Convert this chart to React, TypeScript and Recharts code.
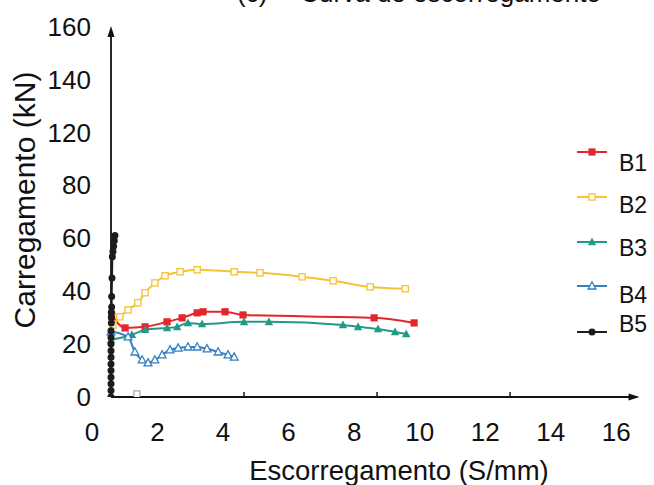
import React from 'react';
import { ComposedChart, Line, XAxis, YAxis, ReferenceLine, Legend } from 'recharts';

type P = { x: number; y: number };

const xTicks = [0, 2, 4, 6, 8, 10, 12, 14, 16];
const yTickValues = [0, 20, 40, 60, 80, 100, 120, 140];
const yTickLabels = ['0', '20', '40', '60', '80', '120', '140', '160'];
const xMinorTicks = [4.64, 8.7, 12.76];

const seriesNames = ['B1', 'B2', 'B3', 'B4', 'B5'];

const b1: P[] = [
  { x: 0.6, y: 31 }, { x: 1.01, y: 26.1 }, { x: 1.62, y: 26.5 }, { x: 2.29, y: 28.4 },
  { x: 2.75, y: 29.9 }, { x: 3.21, y: 31.8 }, { x: 3.39, y: 32.2 }, { x: 4.06, y: 32.2 },
  { x: 4.61, y: 31.0 }, { x: 8.61, y: 29.9 }, { x: 9.83, y: 28.0 },
];
const b2: P[] = [
  { x: 0.64, y: 27.2 }, { x: 0.85, y: 30.3 }, { x: 1.1, y: 32.9 }, { x: 1.4, y: 35.6 },
  { x: 1.62, y: 39.4 }, { x: 1.92, y: 43.1 }, { x: 2.23, y: 45.8 }, { x: 2.69, y: 47.3 },
  { x: 3.21, y: 48.1 }, { x: 4.34, y: 47.3 }, { x: 5.13, y: 46.9 }, { x: 6.41, y: 45.4 },
  { x: 7.36, y: 43.9 }, { x: 8.49, y: 41.6 }, { x: 9.56, y: 40.9 },
];
const b3: P[] = [
  { x: 0.58, y: 21.6 }, { x: 1.22, y: 23.5 }, { x: 1.62, y: 25.4 }, { x: 2.29, y: 26.1 },
  { x: 2.6, y: 26.5 }, { x: 2.93, y: 28.0 }, { x: 3.36, y: 27.6 }, { x: 4.64, y: 28.4 },
  { x: 5.4, y: 28.4 }, { x: 7.66, y: 27.2 }, { x: 8.12, y: 26.5 }, { x: 8.73, y: 25.7 },
  { x: 9.25, y: 24.6 }, { x: 9.59, y: 23.8 },
];
const b4: P[] = [
  { x: 0.56, y: 0 }, { x: 0.58, y: 24.6 }, { x: 1.1, y: 22.7 }, { x: 1.31, y: 17.0 },
  { x: 1.53, y: 14.0 }, { x: 1.71, y: 12.9 }, { x: 1.92, y: 14.0 }, { x: 2.14, y: 15.9 },
  { x: 2.38, y: 17.8 }, { x: 2.63, y: 18.5 }, { x: 2.93, y: 18.9 }, { x: 3.21, y: 18.9 },
  { x: 3.51, y: 18.2 }, { x: 3.85, y: 17.0 }, { x: 4.15, y: 15.9 }, { x: 4.34, y: 15.1 },
];
const b5: P[] = [
  { x: 0.58, y: 0 }, { x: 0.58, y: 2.5 }, { x: 0.58, y: 5 }, { x: 0.58, y: 7.5 },
  { x: 0.58, y: 10 }, { x: 0.58, y: 12.5 }, { x: 0.58, y: 15 }, { x: 0.58, y: 17.5 },
  { x: 0.58, y: 20 }, { x: 0.58, y: 22.5 }, { x: 0.58, y: 25 }, { x: 0.59, y: 28 },
  { x: 0.59, y: 30 }, { x: 0.59, y: 32 }, { x: 0.6, y: 34 }, { x: 0.6, y: 38 },
  { x: 0.61, y: 45 }, { x: 0.62, y: 53 }, { x: 0.64, y: 55 }, { x: 0.66, y: 57 },
  { x: 0.68, y: 59 }, { x: 0.7, y: 61 },
];
const stray: P[] = [{ x: 1.37, y: 0.8 }];

const COLORS = ['#e3262c', '#f5c233', '#249a86', '#3580c2', '#1c1c1c'];
const SHAPES = ['square', 'squareOpen', 'triangle', 'triangleOpen', 'circle'];
const FONT = '"Liberation Sans", Arial, sans-serif';

function marker(shape: string, color: string, cx: number, cy: number, key?: any) {
  const s = 3.6;
  switch (shape) {
    case 'square':
      return <rect key={key} x={cx - s} y={cy - s} width={2 * s} height={2 * s} fill={color} />;
    case 'squareOpen':
      return <rect key={key} x={cx - s + 0.5} y={cy - s + 0.5} width={2 * s - 1} height={2 * s - 1} fill="#fff" stroke={color} strokeWidth={1.3} />;
    case 'triangle':
      return <polygon key={key} points={`${cx},${cy - 4.5} ${cx - 4.2},${cy + 3.3} ${cx + 4.2},${cy + 3.3}`} fill={color} />;
    case 'triangleOpen':
      return <polygon key={key} points={`${cx},${cy - 4.2} ${cx - 3.9},${cy + 3} ${cx + 3.9},${cy + 3}`} fill="#fff" stroke={color} strokeWidth={1.3} />;
    case 'strayOpen':
      return <rect key={key} x={cx - 3} y={cy - 4} width={6} height={7} fill="#fff" stroke={color} strokeWidth={1.1} />;
    default:
      return <circle key={key} cx={cx} cy={cy} r={3.5} fill={color} />;
  }
}

const dotFn = (shape: string, color: string) => (props: any) => {
  const { cx, cy, index } = props;
  if (cx == null || cy == null) return <g key={index} />;
  return marker(shape, color, cx, cy, index);
};

const arrowLine = (dir: 'up' | 'right') => (props: any) => {
  const { x1, y1, x2, y2 } = props;
  const head =
    dir === 'up'
      ? `${x2},${y2 - 3} ${x2 - 3.5},${y2 + 8} ${x2 + 3.5},${y2 + 8}`
      : `${x2 + 3},${y2} ${x2 - 8},${y2 - 3.5} ${x2 - 8},${y2 + 3.5}`;
  return (
    <g>
      <line x1={x1} y1={y1} x2={x2} y2={y2} stroke="#111" strokeWidth={1.8} />
      <polygon points={head} fill="#111" />
    </g>
  );
};

const tickMark = (props: any) => {
  const { x1, y1 } = props;
  return <line x1={x1} y1={y1} x2={x1} y2={y1 - 5} stroke="#222" strokeWidth={1.6} />;
};

const legendLineY = [22, 67, 112, 156, 202];
const legendTextY = [41, 83, 126, 173, 202];

const renderLegend = () => (
  <svg width={84} height={225} style={{ display: 'block' }}>
    {seriesNames.map((n, i) => (
      <g key={n}>
        <line x1={7} x2={37} y1={legendLineY[i]} y2={legendLineY[i]} stroke={COLORS[i]} strokeWidth={2} />
        {marker(SHAPES[i], COLORS[i], 22, legendLineY[i])}
        <text x={49} y={legendTextY[i]} fontSize={23} fontFamily={FONT} fill="#111">{n}</text>
      </g>
    ))}
  </svg>
);

const series = [b1, b2, b3, b4, b5];

export default function App() {
  return (
    <div style={{ position: 'absolute', left: 0, top: 0, width: 654, height: 485, overflow: 'hidden', background: '#fff', fontFamily: FONT }}>
      <div style={{ position: 'absolute', left: 237, top: -20, fontSize: 26, lineHeight: '26px', whiteSpace: 'nowrap', color: '#111' }}>
        (c)<span style={{ marginLeft: 33 }}>Curva de escorregamento</span>
      </div>
      <ComposedChart width={654} height={485} margin={{ top: 0, right: 5, bottom: 28, left: 0 }}>
        <XAxis
          type="number"
          dataKey="x"
          domain={[0, 17]}
          ticks={xTicks}
          axisLine={false}
          tickLine={false}
          tickMargin={20}
          height={60}
          tick={{ fontSize: 26, fill: '#111', fontFamily: FONT }}
          allowDataOverflow
        />
        <YAxis
          type="number"
          dataKey="y"
          domain={[0, 150]}
          ticks={yTickValues}
          tickFormatter={(v: number) => yTickLabels[yTickValues.indexOf(v)] ?? String(v)}
          axisLine={false}
          tickLine={false}
          tickSize={0}
          tickMargin={1}
          width={92}
          tick={{ fontSize: 26, fill: '#111', fontFamily: FONT }}
          allowDataOverflow
        />
        <ReferenceLine segment={[{ x: 0.58, y: 0 }, { x: 16.62, y: 0 }]} shape={arrowLine('right')} />
        <ReferenceLine segment={[{ x: 0.58, y: 0 }, { x: 0.58, y: 139 }]} shape={arrowLine('up')} />
        {xMinorTicks.map((t) => (
          <ReferenceLine key={t} segment={[{ x: t, y: 0 }, { x: t, y: 2 }]} shape={tickMark} />
        ))}
        {series.map((d, i) => (
          <Line
            key={seriesNames[i]}
            name={seriesNames[i]}
            data={d}
            dataKey="y"
            type={i === 4 ? 'linear' : 'monotone'}
            stroke={COLORS[i]}
            strokeWidth={2}
            dot={dotFn(SHAPES[i], COLORS[i])}
            activeDot={false}
            isAnimationActive={false}
          />
        ))}
        <Line
          name="stray"
          data={stray}
          dataKey="y"
          stroke="none"
          dot={dotFn('strayOpen', '#9a9a9a')}
          activeDot={false}
          legendType="none"
          isAnimationActive={false}
        />
        <Legend
          layout="horizontal"
          verticalAlign="middle"
          align="center"
          content={renderLegend}
          wrapperStyle={{ position: 'absolute', left: 570, top: 130, width: 84, height: 225 }}
        />
      </ComposedChart>
      <div style={{ position: 'absolute', left: 25, top: 200, transform: 'translate(-50%, -50%) rotate(-90deg)', fontSize: 30, whiteSpace: 'nowrap', color: '#111' }}>
        Carregamento (kN)
      </div>
      <div style={{ position: 'absolute', left: 399, top: 471, transform: 'translate(-50%, -50%)', fontSize: 27.5, whiteSpace: 'nowrap', color: '#111' }}>
        Escorregamento (S/mm)
      </div>
    </div>
  );
}
